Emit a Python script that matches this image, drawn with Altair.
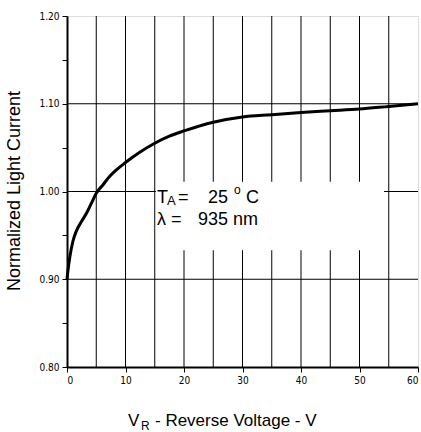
import altair as alt
import pandas as pd

# ---- data ----
volts = [0, 0.2, 0.5, 1.0, 1.6, 2.5, 3.4, 4.2, 5.0, 6.2, 7.0, 8.5, 10, 12.5, 15, 17.5, 20, 25, 30, 35, 40, 45, 50, 55, 60]
current = [0.900, 0.912, 0.926, 0.943, 0.955, 0.966, 0.976, 0.987, 0.998, 1.008, 1.015, 1.025, 1.033, 1.045,
           1.055, 1.063, 1.069, 1.079, 1.085, 1.0875, 1.090, 1.092, 1.094, 1.097, 1.100]
x_grid = [5, 10, 15, 20, 25, 30, 35, 40, 45, 50, 55]
y_grid = [0.90, 1.00, 1.10]
x_ticks = [0, 5, 10, 15, 20, 25, 30, 35, 40, 45, 50, 55, 60]
y_ticks = [0.80, 0.85, 0.90, 0.95, 1.00, 1.05, 1.10, 1.15, 1.20]
box = {"x": [15.2], "x2": [54.2], "y": [1.011], "y2": [0.933]}

W, H = 351, 351
FONT = "Liberation Sans"
NARROW = "Liberation Sans Narrow, DejaVu Sans Condensed, Liberation Sans"

xs = alt.Scale(domain=[0, 60], nice=False, zero=False)
ys = alt.Scale(domain=[0.8, 1.2], nice=False, zero=False)

curve_df = pd.DataFrame({"v": volts, "i": current})

base_axes = alt.Chart(curve_df).mark_line(opacity=0).encode(
    x=alt.X("v:Q", scale=xs, axis=alt.Axis(
        values=x_ticks, title=None, grid=False, domainColor="black", domainWidth=2,
        tickColor="black", tickSize=5, tickWidth=1, labelFont=NARROW, labelFontSize=10,
        labelColor="black", labelPadding=3,
        labelExpr="datum.value % 10 == 0 ? datum.label : ''")),
    y=alt.Y("i:Q", scale=ys, axis=alt.Axis(
        values=y_ticks, title=None, grid=False, domainColor="black", domainWidth=2,
        tickColor="black", tickSize=5, tickWidth=1, labelFont=NARROW, labelFontSize=10,
        labelColor="black", labelPadding=3,
        labelExpr="round(datum.value*100) % 10 == 0 ? format(datum.value, '.2f') : ''")),
)

vgrid = alt.Chart(pd.DataFrame({"v": x_grid})).mark_rule(color="black", strokeWidth=1).encode(
    x=alt.X("v:Q", scale=xs))
hgrid = alt.Chart(pd.DataFrame({"i": y_grid})).mark_rule(color="black", strokeWidth=1).encode(
    y=alt.Y("i:Q", scale=ys))

whitebox = alt.Chart(pd.DataFrame(box)).mark_rect(color="white").encode(
    x=alt.X("x:Q", scale=xs), x2="x2:Q", y=alt.Y("y:Q", scale=ys), y2="y2:Q")

curve = alt.Chart(curve_df).mark_line(color="black", strokeWidth=3, interpolate="monotone").encode(
    x=alt.X("v:Q", scale=xs), y=alt.Y("i:Q", scale=ys))

OX, OY = 67, 16


def txt(s, px, py, size, align="left", angle=0, font=FONT):
    kw = dict(text=s, font=font, fontSize=size, color="black", align=align, baseline="alphabetic")
    if angle:
        kw["angle"] = angle
    return alt.Chart(pd.DataFrame({"a": [0]})).mark_text(**kw).encode(
        x=alt.value(px - OX), y=alt.value(py - OY))


texts = [
    # annotation
    txt("T", 157, 203, 18),
    txt("A", 167, 205, 13),
    txt("=", 178, 203, 18),
    txt("25", 208, 203, 18),
    txt("o", 234, 194, 12),
    txt("C", 246, 203, 18),
    txt("λ =", 157, 225, 18),
    txt("935 nm", 198, 225, 18),
    # x title
    txt("V", 128, 426, 17),
    txt("R", 141, 430, 12),
    txt("- Reverse Voltage - V", 155, 426, 17),
    # y title
    txt("Normalized Light Current", 20, 191, 18, align="center", angle=270),
]

chart = alt.layer(vgrid, hgrid, whitebox, curve, base_axes, *texts).properties(
    width=W, height=H,
    autosize="none",
    padding={"left": OX, "top": OY, "right": 421 - OX - W, "bottom": 432 - OY - H},
).configure_view(stroke="black", strokeWidth=2).configure(background="white")

chart.save("out.html", embed_options={"renderer": "svg", "actions": False})
